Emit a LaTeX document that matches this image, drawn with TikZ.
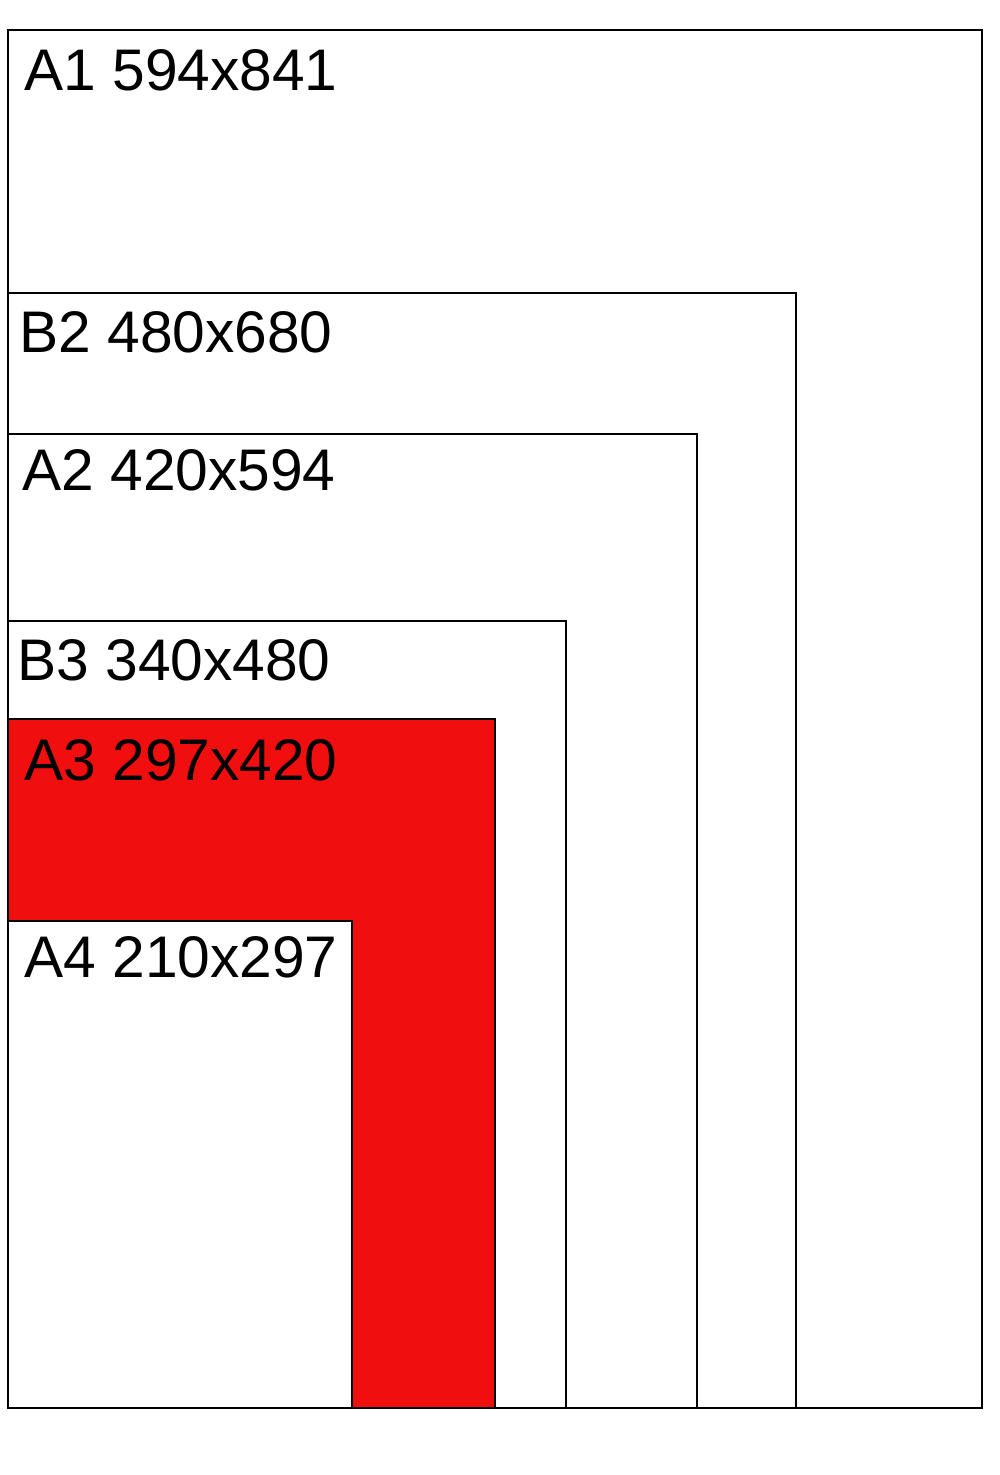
\documentclass[tikz,border=0pt]{standalone}
\usepackage{fontspec}
\setmainfont{Liberation Sans}
\definecolor{sheetred}{RGB}{240,14,14}

\begin{document}
\begin{tikzpicture}[
    x=0.02cm, y=-0.02cm,
    sheet/.style={draw=black, line width=0.05cm, fill=white},
    lbl/.style={anchor=base west, inner sep=0pt, font=\fontsize{33.4}{40}\selectfont},
  ]
  \useasboundingbox (0,0) rectangle (1000,1475);

  % --- Sheets, largest first, all sharing the bottom-left corner ----------
  \coordinate (corner) at (8,1408);
  \foreach \n/\r/\t/\fc in {A1/982/30/white, B2/796/293/white, A2/697/434/white,
                            B3/566/621/white, A3/495/719/sheetred, A4/352/921/white}
    \draw[sheet, fill=\fc] (corner) rectangle (\r,\t) coordinate (top\n);

  % --- Labels -------------------------------------------------------------
  \node[lbl] (lblA1) at (24,90)  {A1 594x841};
  \node[lbl] (lblB2) at (19,352) {B2 480x680};
  \node[lbl] (lblA2) at (22,490) {A2 420x594};
  \node[lbl] (lblB3) at (17,680) {B3 340x480};
  \node[lbl] (lblA3) at (24,780) {A3 297x420};
  \node[lbl] (lblA4) at (24,977) {A4 210x297};

\end{tikzpicture}
\end{document}
